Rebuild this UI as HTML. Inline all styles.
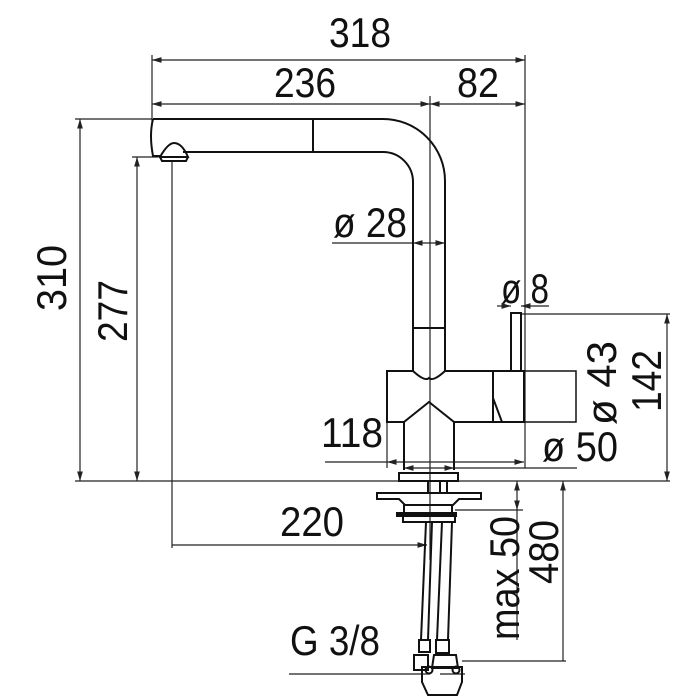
<!DOCTYPE html>
<html><head><style>html,body{margin:0;padding:0;background:#fff}svg{display:block}</style></head>
<body>
<svg width="700" height="700" viewBox="0 0 700 700" xmlns="http://www.w3.org/2000/svg">
<defs>
<marker id="a" viewBox="0 0 10 6" refX="10" refY="3" markerWidth="8" markerHeight="5" orient="auto-start-reverse"><path d="M0,0 L10,3 L0,6 z" fill="#222"/></marker>
</defs>
<g fill="none" stroke="#222" stroke-width="1.2">
<line x1="152" y1="55" x2="152" y2="122"/>
<line x1="525" y1="55" x2="525" y2="468"/>
<line x1="430" y1="96" x2="430" y2="250"/>
<line x1="75" y1="119" x2="152" y2="119"/>
<line x1="132" y1="157" x2="158" y2="157"/>
<line x1="75" y1="481" x2="670" y2="481"/>
<line x1="521" y1="314" x2="670" y2="314"/>
<line x1="387" y1="422" x2="387" y2="468"/>
<line x1="172" y1="160" x2="172" y2="548"/>
<line x1="455" y1="510" x2="523" y2="510"/>
<line x1="462" y1="661" x2="566" y2="661"/>
<line x1="430" y1="250" x2="430" y2="560"/>
<line x1="152" y1="60" x2="525" y2="60" marker-start="url(#a)" marker-end="url(#a)"/>
<line x1="152" y1="104" x2="430" y2="104" marker-start="url(#a)" marker-end="url(#a)"/>
<line x1="430" y1="104" x2="525" y2="104" marker-start="url(#a)" marker-end="url(#a)"/>
<line x1="80" y1="119" x2="80" y2="481" marker-start="url(#a)" marker-end="url(#a)"/>
<line x1="137" y1="157" x2="137" y2="481" marker-start="url(#a)" marker-end="url(#a)"/>
<line x1="332" y1="243" x2="413" y2="243"/>
<line x1="413" y1="243" x2="445" y2="243" marker-start="url(#a)" marker-end="url(#a)"/>
<line x1="497" y1="306" x2="511" y2="306" marker-end="url(#a)"/>
<line x1="549" y1="306" x2="521" y2="306" marker-end="url(#a)"/>
<line x1="667" y1="314" x2="667" y2="481" marker-start="url(#a)" marker-end="url(#a)"/>
<line x1="325" y1="462" x2="387" y2="462"/>
<line x1="387" y1="462" x2="524" y2="462" marker-start="url(#a)" marker-end="url(#a)"/>
<line x1="404" y1="468" x2="454" y2="468" marker-start="url(#a)" marker-end="url(#a)"/>
<line x1="454" y1="468" x2="577" y2="468"/>
<line x1="172" y1="545" x2="427" y2="545" marker-end="url(#a)"/>
<line x1="517" y1="481" x2="517" y2="510" marker-start="url(#a)" marker-end="url(#a)"/>
<line x1="517" y1="510" x2="517" y2="640"/>
<line x1="563" y1="481" x2="563" y2="661" marker-start="url(#a)"/>
<line x1="289" y1="674" x2="430" y2="674"/>
<line x1="440" y1="674" x2="465" y2="674"/>
</g>
<g fill="none" stroke="#111" stroke-width="2">
<path d="M153,119 L383,119 A62,62 0 0 1 445,181 L445,371"/>
<path d="M183,152 L383,152 A30,30 0 0 1 413,182 L413,371"/>
<path d="M153,119 Q149,135 153,156 L160,156"/>
<line x1="313" y1="119" x2="313" y2="152"/>
<line x1="413" y1="328" x2="445" y2="328"/>
<path d="M160,157 Q168,143 174,143 Q182,143 188,157 Z M160,157 L162,161 L186,161 L188,157"/>
<path d="M413,371 L387,371 L387,422 L404,422"/>
<path d="M445,371 L493,371 L493,422 L454,422"/>
<path d="M413,371 Q425,382 429,378 Q433,382 445,371"/>
<path d="M404,470 L404,422 L429,402 L454,422 L454,470"/>
<rect x="493" y="371" width="31" height="51"/>
<path d="M493,398 L502,422"/>
<rect x="524" y="371" width="52" height="51" stroke-width="1.5"/>
<rect x="511" y="313" width="10" height="58"/>
<rect x="399" y="473" width="59" height="8"/>
<line x1="428" y1="481" x2="428" y2="493"/><line x1="440" y1="481" x2="440" y2="493"/><line x1="447" y1="481" x2="447" y2="493"/>
<path d="M377,493 L481,493 L481,499 L459,499 L453,505 L405,505 L399,499 L377,499 Z"/>
<rect x="404" y="505" width="48" height="8"/>
<rect x="397" y="513" width="59" height="3" fill="#111"/>
<rect x="403" y="516" width="52" height="6"/>
<path d="M426,522 L421,640 M432,522 L428,640"/>
<path d="M442,522 L437,640 M452,522 L448,640"/>
<path d="M419,640 L430,640 L430,652 L419,652 Z M436,640 L449,640 L449,653 L436,653 Z"/>
<path d="M414,655 L428,655 L428,670 L414,670 Z"/>
<path d="M434,655 L456,655 L458,668 L432,668 Z"/>
<path d="M422,667 L462,667 L462,682 L457,695 L428,695 L422,682 Z"/>
<circle cx="429" cy="670" r="3.5"/><circle cx="456" cy="670" r="3.5"/>
</g>
<g font-family="'Liberation Sans Narrow','Liberation Sans',sans-serif" font-size="42" fill="#111" text-anchor="middle">
<text x="360" y="47" textLength="62" lengthAdjust="spacingAndGlyphs">318</text>
<text x="305" y="97" textLength="62" lengthAdjust="spacingAndGlyphs">236</text>
<text x="478" y="97" textLength="42" lengthAdjust="spacingAndGlyphs">82</text>
<text x="370" y="237" textLength="74" lengthAdjust="spacingAndGlyphs">ø 28</text>
<text x="525" y="303" textLength="48" lengthAdjust="spacingAndGlyphs">ø 8</text>
<text x="352" y="447" textLength="62" lengthAdjust="spacingAndGlyphs">118</text>
<text x="580" y="461" textLength="76" lengthAdjust="spacingAndGlyphs">ø 50</text>
<text x="312" y="536" textLength="64" lengthAdjust="spacingAndGlyphs">220</text>
<text x="335" y="655" textLength="90" lengthAdjust="spacingAndGlyphs">G 3/8</text>
<text transform="translate(66,278) rotate(-90)" textLength="66" lengthAdjust="spacingAndGlyphs">310</text>
<text transform="translate(127,311) rotate(-90)" textLength="62" lengthAdjust="spacingAndGlyphs">277</text>
<text transform="translate(616,383) rotate(-90)" textLength="84" lengthAdjust="spacingAndGlyphs">ø 43</text>
<text transform="translate(661,381) rotate(-90)" textLength="62" lengthAdjust="spacingAndGlyphs">142</text>
<text transform="translate(519,578) rotate(-90)" textLength="124" lengthAdjust="spacingAndGlyphs">max 50</text>
<text transform="translate(558,552) rotate(-90)" textLength="64" lengthAdjust="spacingAndGlyphs">480</text>
</g>
</svg>
</body></html>
